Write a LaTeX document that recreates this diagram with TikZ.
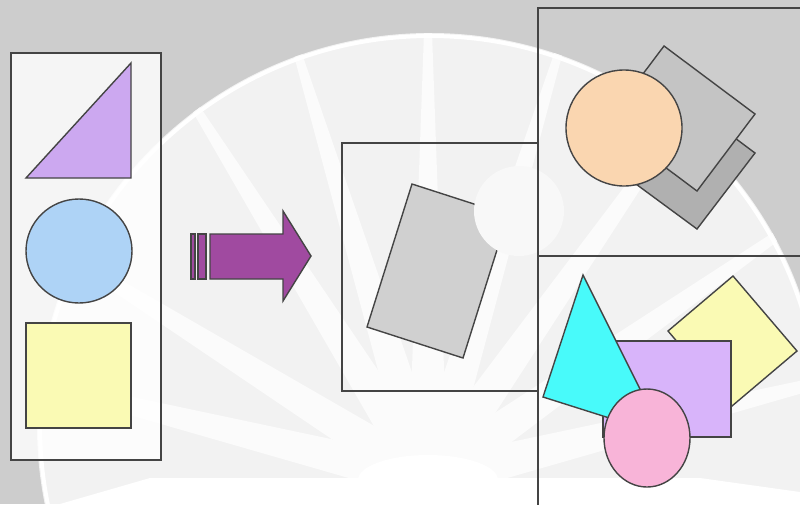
\documentclass[tikz,border=0pt]{standalone}
\usetikzlibrary{calc}
\definecolor{bggray}{HTML}{CDCDCD}
\definecolor{bglight}{HTML}{F2F2F2}
\definecolor{edge}{HTML}{444444}
\definecolor{lav}{HTML}{CCA8F0}
\definecolor{skyb}{HTML}{AED3F6}
\definecolor{lyel}{HTML}{FAFAB4}
\definecolor{arrowc}{HTML}{A04AA0}
\definecolor{grayA}{HTML}{D0D0D0}
\definecolor{grayB}{HTML}{B0B0B0}
\definecolor{grayC}{HTML}{C4C4C4}
\definecolor{peach}{HTML}{FAD6B0}
\definecolor{cyanc}{HTML}{48FAFA}
\definecolor{lilac}{HTML}{D8B4FA}
\definecolor{pinkc}{HTML}{F8B4D8}
\definecolor{ghost}{HTML}{F8F8F8}
\definecolor{raysc}{HTML}{FBFBFB}
\begin{document}
\begin{tikzpicture}[x=1pt,y=-1pt,line join=miter,
  panel/.style={draw=edge,line width=1.7pt},
  shp/.style={draw=edge,line width=1.4pt}]
\useasboundingbox (0,0) rectangle (800,504);
\clip (0,0) rectangle (800,504);
% watermark background
\fill[bggray] (0,0) rectangle (800,504);
\begin{scope}
  \clip (430,426) circle (393);
  \fill[bglight] (0,0) rectangle (800,504);
  \foreach \a in {14,35,55,73,90,107,122,148,166} {
    \fill[raysc] ($(428,480)+({-\a+90}:20)$) -- ($(428,480)+({-\a}:560)$) -- ($(428,480)+({-\a-90}:20)$) -- cycle;
  }
  \fill[white] (428,480) ellipse (70 and 25);
  \fill[white] (60,504) -- (150,478) -- (700,478) -- (800,492) -- (800,504) -- cycle;
\end{scope}
\draw[white,line width=4pt] (430,426) circle (390);

% left panel
\filldraw[panel,fill=white,fill opacity=0.8] (11,53) rectangle (161,460);
\filldraw[shp,fill=lav] (26,178) -- (131,63) -- (131,178) -- cycle;
\filldraw[shp,fill=skyb] (79,251) ellipse (53 and 52);
\filldraw[shp,fill=lyel] (26,323) rectangle (131,428);

% arrow
\filldraw[shp,fill=arrowc] (191,234) rectangle (195,279);
\filldraw[shp,fill=arrowc] (198,234) rectangle (206,279);
\filldraw[shp,fill=arrowc] (210,234) -- (283,234) -- (283,211) -- (311,256) -- (283,301) -- (283,279) -- (210,279) -- cycle;

% middle panel
\draw[panel] (342,143) rectangle (538,391);
\filldraw[shp,fill=grayA] (412,184) -- (508,215) -- (463,358) -- (367,327) -- cycle;
\fill[ghost] (519,211) circle (45);

% top right panel
\filldraw[shp,fill=grayB] (606,162) -- (664,85) -- (755,153) -- (697,229) -- cycle;
\filldraw[shp,fill=grayC] (606,123) -- (664,46) -- (755,114) -- (697,191) -- cycle;
\filldraw[shp,fill=peach] (624,128) circle (58);

% bottom right panel
\filldraw[shp,fill=lyel] (733,276) -- (797,351) -- (732,406) -- (668,331) -- cycle;
\filldraw[shp,fill=lilac] (603,341) rectangle (731,437);
\filldraw[shp,fill=cyanc] (583,275) -- (543,397) -- (663,435) -- cycle;
\filldraw[shp,fill=pinkc] (647,438) ellipse (43 and 49);

% right panel frames
\draw[panel] (538,520) -- (538,8) -- (820,8);
\draw[panel] (538,256) -- (820,256);
\end{tikzpicture}
\end{document}
